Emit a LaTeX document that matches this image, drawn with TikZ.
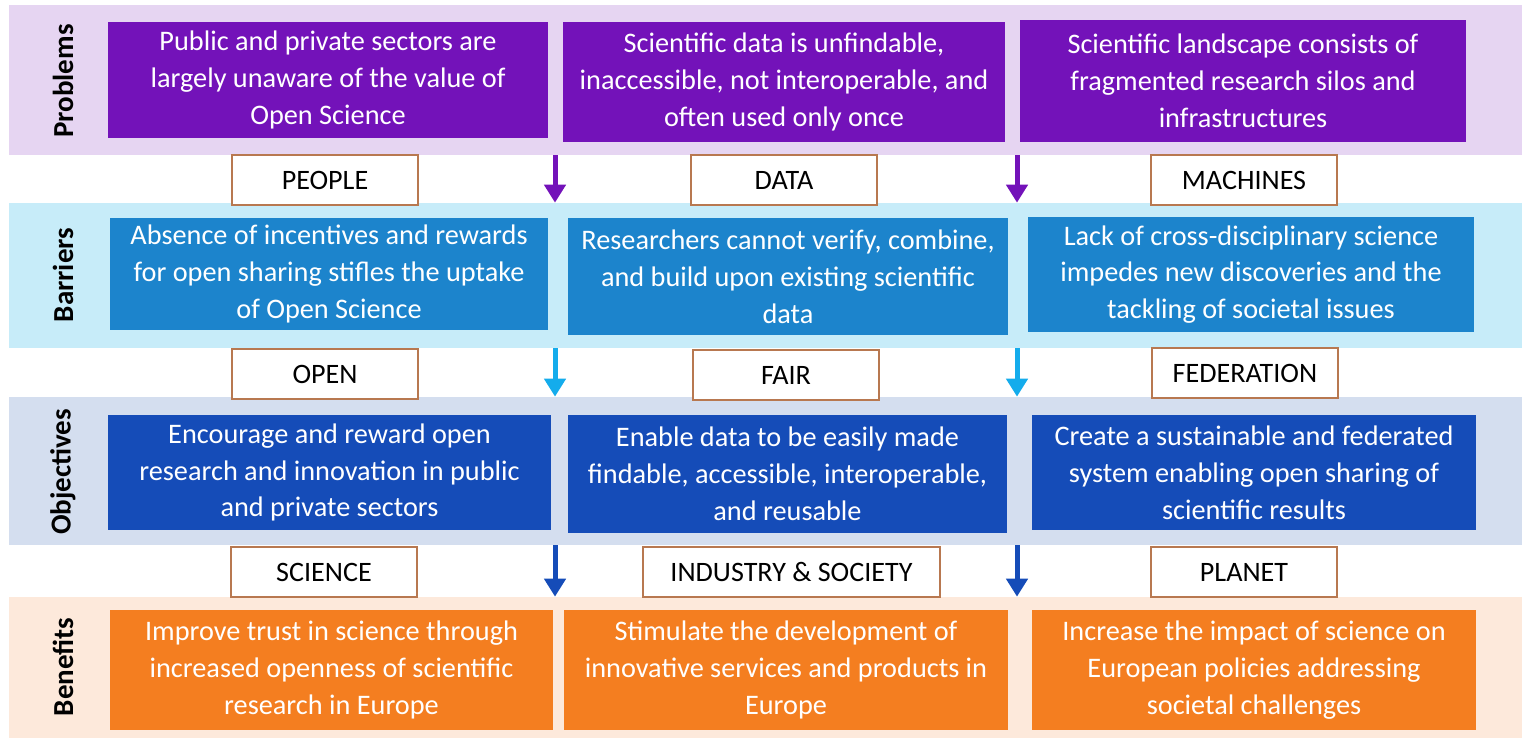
\documentclass[tikz,border=0pt]{standalone}
\usepackage{fontspec}
\setmainfont{Carlito}
\usetikzlibrary{arrows.meta}

\begin{document}
\begin{tikzpicture}[x=0.02cm, y=-0.02cm,
	band/.style={inner sep=0pt, minimum width=30.26cm},
	bandlabel/.style={rotate=90, font=\fontsize{16.5}{19}\selectfont\bfseries},
	card/.style={inner sep=0pt, align=center, text=white, font=\fontsize{16.1}{21}\selectfont},
	tag/.style={draw=tagborder, line width=0.03cm, fill=white, minimum width=3.72cm, minimum height=1cm, inner sep=0pt, font=\fontsize{16}{18}\selectfont},
	flow/.style={line width=0.1cm, -{Triangle[width=0.42cm,length=0.36cm]}}]
	\definecolor{probbg}{RGB}{230,213,242}
	\definecolor{probcol}{RGB}{115,18,185}
	\definecolor{barrbg}{RGB}{199,236,249}
	\definecolor{barrcol}{RGB}{28,132,204}
	\definecolor{barrarrow}{RGB}{20,172,236}
	\definecolor{objbg}{RGB}{212,222,239}
	\definecolor{objcol}{RGB}{21,76,184}
	\definecolor{benbg}{RGB}{253,233,219}
	\definecolor{bencol}{RGB}{244,126,32}
	\definecolor{tagborder}{RGB}{184,120,80}

	\useasboundingbox (0,0) rectangle (1524,741);

	% bands
	\node[band, fill=probbg, minimum height=3cm] (pband) at (765.5,80) {};
	\node[band, fill=barrbg, minimum height=2.9cm] (bband) at (765.5,275.5) {};
	\node[band, fill=objbg, minimum height=2.96cm] (oband) at (765.5,471) {};
	\node[band, fill=benbg, minimum height=2.82cm] (fband) at (765.5,667.5) {};

	\node[bandlabel] (plabel) at (63,81) {Problems};
	\node[bandlabel] (blabel) at (63,275) {Barriers};
	\node[bandlabel] (olabel) at (63,472) {Objectives};
	\node[bandlabel] (flabel) at (63,667) {Benefits};

	% problems
	\node[card, fill=probcol, minimum width=8.8cm, minimum height=2.34cm] (p1) at (328,80) {Public and private sectors are\\largely unaware of the value of\\Open Science};
	\node[card, fill=probcol, minimum width=8.84cm, minimum height=2.4cm] (p2) at (784,82) {Scientific data is unfindable,\\inaccessible, not interoperable, and\\often used only once};
	\node[card, fill=probcol, minimum width=8.92cm, minimum height=2.44cm] (p3) at (1243,81) {Scientific landscape consists of\\fragmented research silos and\\infrastructures};

	% barriers
	\node[card, fill=barrcol, minimum width=8.76cm, minimum height=2.24cm] (b1) at (329,274) {Absence of incentives and rewards\\for open sharing stifles the uptake\\of Open Science};
	\node[card, fill=barrcol, minimum width=8.8cm, minimum height=2.34cm] (b2) at (788,276.5) {Researchers cannot verify, combine,\\and build upon existing scientific\\data};
	\node[card, fill=barrcol, minimum width=8.92cm, minimum height=2.3cm] (b3) at (1251,274.5) {Lack of cross-disciplinary science\\impedes new discoveries and the\\tackling of societal issues};

	% objectives
	\node[card, fill=objcol, minimum width=8.86cm, minimum height=2.3cm] (o1) at (329.5,472.5) {Encourage and reward open\\research and innovation in public\\and private sectors};
	\node[card, fill=objcol, minimum width=8.78cm, minimum height=2.36cm] (o2) at (787.5,474) {Enable data to be easily made\\findable, accessible, interoperable,\\and reusable};
	\node[card, fill=objcol, minimum width=8.88cm, minimum height=2.3cm] (o3) at (1254,472.5) {Create a sustainable and federated\\system enabling open sharing of\\scientific results};

	% benefits
	\node[card, fill=bencol, minimum width=8.86cm, minimum height=2.4cm] (f1) at (331.5,670) {Improve trust in science through\\increased openness of scientific\\research in Europe};
	\node[card, fill=bencol, minimum width=8.88cm, minimum height=2.4cm] (f2) at (786,670) {Stimulate the development of\\innovative services and products in\\Europe};
	\node[card, fill=bencol, minimum width=8.88cm, minimum height=2.4cm] (f3) at (1254,670) {Increase the impact of science on\\European policies addressing\\societal challenges};

	% tags
	\node[tag] (people) at (325,180) {PEOPLE};
	\node[tag] (data) at (784,180) {DATA};
	\node[tag] (machines) at (1244,180) {MACHINES};
	\node[tag] (open) at (325,374) {OPEN};
	\node[tag] (fair) at (786,375) {FAIR};
	\node[tag] (federation) at (1245,373) {FEDERATION};
	\node[tag] (science) at (324,572) {SCIENCE};
	\node[tag, minimum width=5.94cm] (industry) at (791.5,572) {INDUSTRY \& SOCIETY};
	\node[tag] (planet) at (1244,572) {PLANET};

	% arrows
	\coordinate (lane1) at (555,0);
	\coordinate (lane2) at (1017,0);
	\draw[flow, probcol] (pband.south -| lane1) -- (bband.north -| lane1);
	\draw[flow, probcol] (pband.south -| lane2) -- (bband.north -| lane2);
	\draw[flow, barrarrow] (bband.south -| lane1) -- (oband.north -| lane1);
	\draw[flow, barrarrow] (bband.south -| lane2) -- (oband.north -| lane2);
	\draw[flow, objcol] (oband.south -| lane1) -- (fband.north -| lane1);
	\draw[flow, objcol] (oband.south -| lane2) -- (fband.north -| lane2);
\end{tikzpicture}
\end{document}
